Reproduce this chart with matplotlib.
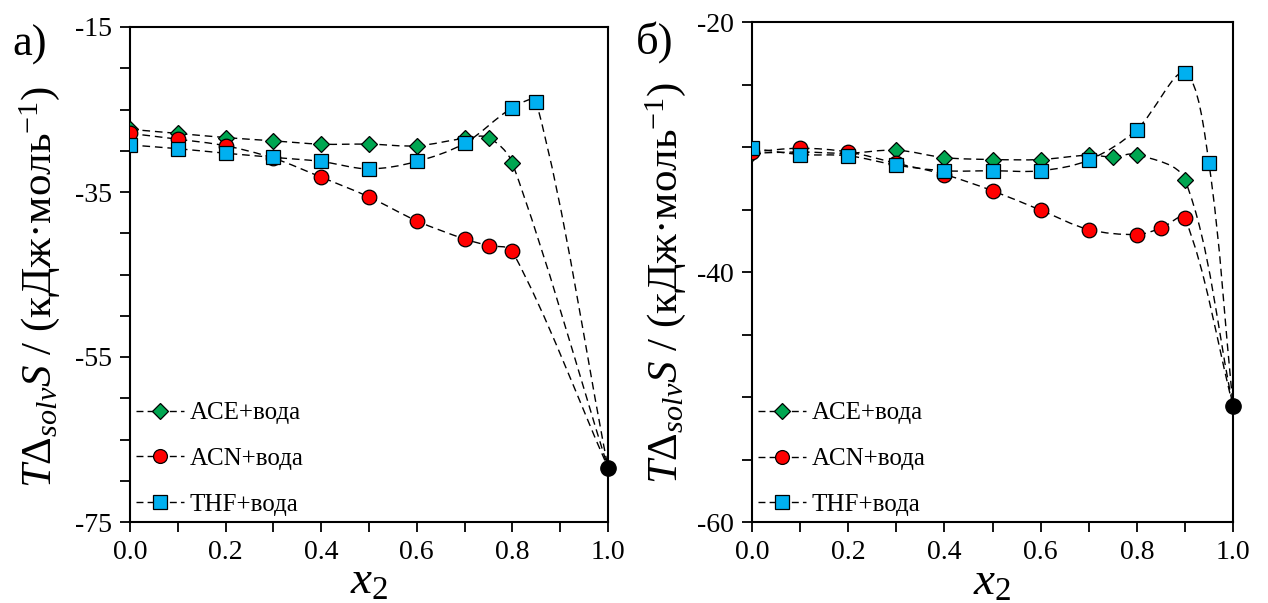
import numpy as np
import matplotlib
matplotlib.use("Agg")
import matplotlib.pyplot as plt
from matplotlib.path import Path
from matplotlib.patches import PathPatch
from matplotlib.lines import Line2D
from matplotlib.ticker import MultipleLocator, FormatStrFormatter

plt.rcParams['font.family'] = ['Liberation Serif', 'DejaVu Serif']
plt.rcParams['mathtext.fontset'] = 'custom'
plt.rcParams['mathtext.rm'] = 'Liberation Serif'
plt.rcParams['mathtext.it'] = 'Liberation Serif:italic'
plt.rcParams['axes.unicode_minus'] = False

# ---------------- data ----------------
labels = ["ACE+вода", "ACN+вода", "THF+вода"]

# panel а)
a_ace_x = [0.0, 0.1, 0.2, 0.3, 0.4, 0.5, 0.6, 0.7, 0.75, 0.8]
a_ace_y = [-27.4, -27.9, -28.4, -28.8, -29.2, -29.2, -29.4, -28.5, -28.4, -31.5]
a_acn_x = [0.0, 0.1, 0.2, 0.3, 0.4, 0.5, 0.6, 0.7, 0.75, 0.8]
a_acn_y = [-27.9, -28.6, -29.4, -30.9, -33.2, -35.6, -38.5, -40.7, -41.5, -42.2]
a_thf_x = [0.0, 0.1, 0.2, 0.3, 0.4, 0.5, 0.6, 0.7, 0.8, 0.85]
a_thf_y = [-29.3, -29.75, -30.3, -30.8, -31.3, -32.2, -31.3, -29.1, -24.8, -24.1]
a_pure_x = 1.0
a_pure_y = -68.4

# panel б)
b_ace_x = [0.0, 0.1, 0.2, 0.3, 0.4, 0.5, 0.6, 0.7, 0.75, 0.8, 0.9]
b_ace_y = [-30.5, -30.4, -30.5, -30.25, -30.85, -31.0, -31.0, -30.65, -30.8, -30.6, -32.6]
b_acn_x = [0.0, 0.1, 0.2, 0.3, 0.4, 0.5, 0.6, 0.7, 0.8, 0.85, 0.9]
b_acn_y = [-30.4, -30.1, -30.4, -31.3, -32.2, -33.5, -35.05, -36.6, -37.0, -36.5, -35.7]
b_thf_x = [0.0, 0.1, 0.2, 0.3, 0.4, 0.5, 0.6, 0.7, 0.8, 0.9, 0.95]
b_thf_y = [-30.1, -30.6, -30.7, -31.45, -31.9, -31.9, -31.9, -31.05, -28.6, -24.05, -31.3]
b_pure_x = 1.0
b_pure_y = -50.7

xticks = [0.0, 0.2, 0.4, 0.6, 0.8, 1.0]
a_yticks = [-75, -55, -35, -15]
b_yticks = [-60, -40, -20]

# ---------------- styles ----------------
colors = ['#00A651', '#FF0000', '#00B0F0']
markers = ['D', 'o', 's']
msizes = [8.5, 10.5, 10]
DASH = (0, (5.5, 3.5))


def smooth_path(ax, xs, ys):
    """Smooth Bezier curve through the data points (chord-length scaled
    tangents, computed in pixel space, returned in data coordinates)."""
    x0, x1 = ax.get_xlim()
    y0, y1 = ax.get_ylim()
    bb = ax.get_position()
    W = bb.width * 1268
    H = bb.height * 603
    sx = W / (x1 - x0)
    sy = H / (y1 - y0)
    P = np.column_stack([(np.asarray(xs) - x0) * sx,
                         (np.asarray(ys) - y0) * sy]).astype(float)
    n = len(P)
    L = np.linalg.norm(np.diff(P, axis=0), axis=1)
    verts = [P[0]]
    codes = [Path.MOVETO]
    for i in range(n - 1):
        p1 = P[i]
        p2 = P[i + 1]
        if i > 0:
            T1 = P[i + 1] - P[i - 1]
            c1 = p1 + T1 * L[i] / (L[i - 1] + L[i]) / 3.0
        else:
            c1 = p1 + (p2 - p1) / 3.0
        if i + 2 < n:
            T2 = P[i + 2] - P[i]
            c2 = p2 - T2 * L[i] / (L[i] + L[i + 1]) / 3.0
        else:
            c2 = p2 - (p2 - p1) / 3.0
        verts += [c1, c2, p2]
        codes += [Path.CURVE4] * 3
    V = np.array(verts)
    V[:, 0] = V[:, 0] / sx + x0
    V[:, 1] = V[:, 1] / sy + y0
    return Path(V, codes)


fig = plt.figure(figsize=(12.68, 6.03), dpi=100)
ax1 = fig.add_axes([130 / 1268, 81 / 603, 478 / 1268, 495 / 603])
ax2 = fig.add_axes([752 / 1268, 81 / 603, 481 / 1268, 500 / 603])

panels = [
    (ax1, [(a_ace_x, a_ace_y), (a_acn_x, a_acn_y), (a_thf_x, a_thf_y)],
     a_pure_x, a_pure_y, (-75, -15), a_yticks),
    (ax2, [(b_ace_x, b_ace_y), (b_acn_x, b_acn_y), (b_thf_x, b_thf_y)],
     b_pure_x, b_pure_y, (-60, -20), b_yticks),
]

for ax, series, px, py, ylim, yticks in panels:
    ax.set_xlim(0, 1.0)
    ax.set_ylim(*ylim)
    for k, (xs, ys) in enumerate(series):
        path = smooth_path(ax, list(xs) + [px], list(ys) + [py])
        ax.add_patch(PathPatch(path, fill=False, edgecolor='black', lw=1.0,
                               linestyle=DASH, zorder=2))
    for k, (xs, ys) in enumerate(series):
        ax.plot(xs, ys, linestyle='none', marker=markers[k], ms=msizes[k],
                mfc=colors[k], mec='black', mew=0.9, zorder=3 + k)
    ax.plot([px], [py], linestyle='none', marker='o', ms=11, mfc='black',
            mec='black', zorder=7, clip_on=False)

    ax.set_xticks(xticks)
    ax.set_yticks(yticks)
    ax.xaxis.set_minor_locator(MultipleLocator(0.1))
    ax.yaxis.set_minor_locator(MultipleLocator(5))
    ax.xaxis.set_major_formatter(FormatStrFormatter('%.1f'))
    ax.tick_params(which='major', direction='out', length=7, width=1.3,
                   labelsize=20, pad=6)
    ax.tick_params(which='minor', direction='out', length=7, width=1.3)
    for s in ax.spines.values():
        s.set_linewidth(1.5)

    ax.set_xlabel(r'$x_2$', fontsize=34, labelpad=0)
    ax.set_ylabel(r'$T\Delta_{solv}S$ / (кДж·моль$^{-1}$)', fontsize=31)

    handles = [Line2D([], [], color='black', lw=1.0, linestyle=(0, (5, 3)),
                      marker=markers[k], ms=msizes[k] * 0.95, mfc=colors[k],
                      mec='black', mew=0.9) for k in range(3)]
    ax.legend(handles, labels, loc='lower left', frameon=False, fontsize=18,
              handlelength=1.9, handletextpad=0.25, labelspacing=0.93,
              borderaxespad=0.0, bbox_to_anchor=(-0.008, -0.008))

ax1.yaxis.set_label_coords(-0.142, 0.475)
ax2.yaxis.set_label_coords(-0.133, 0.478)
ax1.xaxis.set_label_coords(0.5, -0.08)
ax2.xaxis.set_label_coords(0.5, -0.08)

fig.text(30 / 1268, 1 - 45 / 603, 'а)', fontsize=32, ha='center', va='center')
fig.text(655 / 1268, 1 - 42 / 603, 'б)', fontsize=32, ha='center', va='center')

fig.savefig('out.png', dpi=100)
